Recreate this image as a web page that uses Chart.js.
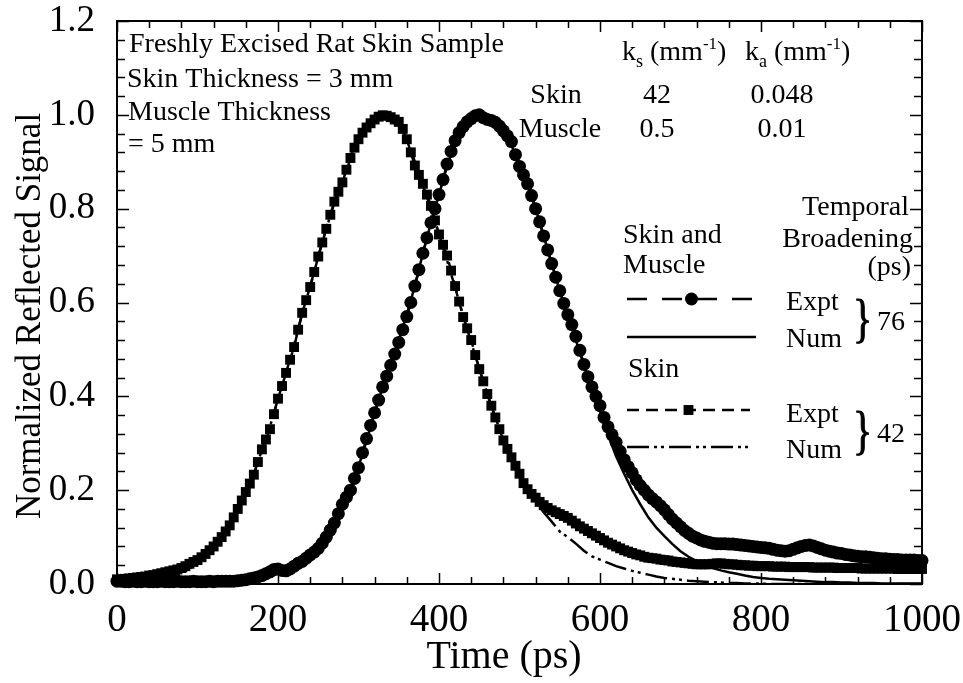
<!DOCTYPE html>
<html>
<head>
<meta charset="utf-8">
<title>Normalized Reflected Signal</title>
<script src="https://cdn.jsdelivr.net/npm/chart.js@4.4.1/dist/chart.umd.min.js"></script>
<style>
  html, body { margin: 0; padding: 0; background: #fff; }
  #chart { display: block; }
</style>
</head>
<body>
<canvas id="chart" width="963" height="683"></canvas>
<script>
// sampling times of the measured pulses (ps)
var exptTimes = [
  0, 5, 10, 15, 20, 25, 30, 35, 40, 45,
  50, 55, 60, 65, 70, 75, 80, 85, 90, 95,
  100, 105, 110, 115, 120, 125, 130, 135, 140, 145,
  150, 155, 160, 165, 170, 175, 180, 185, 190, 195,
  200, 205, 210, 215, 220, 225, 230, 235, 240, 245,
  250, 255, 260, 265, 270, 275, 280, 285, 290, 295,
  300, 305, 310, 315, 320, 325, 330, 335, 340, 345,
  350, 355, 360, 365, 370, 375, 380, 385, 390, 395,
  400, 405, 410, 415, 420, 425, 430, 435, 440, 445,
  450, 455, 460, 465, 470, 475, 480, 485, 490, 495,
  500, 505, 510, 515, 520, 525, 530, 535, 540, 545,
  550, 555, 560, 565, 570, 575, 580, 585, 590, 595,
  600, 605, 610, 615, 620, 625, 630, 635, 640, 645,
  650, 655, 660, 665, 670, 675, 680, 685, 690, 695,
  700, 705, 710, 715, 720, 725, 730, 735, 740, 745,
  750, 755, 760, 765, 770, 775, 780, 785, 790, 795,
  800, 805, 810, 815, 820, 825, 830, 835, 840, 845,
  850, 855, 860, 865, 870, 875, 880, 885, 890, 895,
  900, 905, 910, 915, 920, 925, 930, 935, 940, 945,
  950, 955, 960, 965, 970, 975, 980, 985, 990, 995,
  1000
];

// skin and muscle, experiment (circles)
var skinMuscleExpt = [
  0.006, 0.006, 0.005, 0.005, 0.006, 0.005, 0.005, 0.006, 0.005, 0.005,
  0.005, 0.006, 0.005, 0.005, 0.005, 0.006, 0.005, 0.005, 0.005, 0.006,
  0.005, 0.005, 0.005, 0.006, 0.005, 0.006, 0.006, 0.006, 0.006, 0.006,
  0.007, 0.008, 0.009, 0.011, 0.013, 0.015, 0.018, 0.022, 0.026, 0.031,
  0.032, 0.029, 0.028, 0.032, 0.038, 0.044, 0.048, 0.055, 0.062, 0.068,
  0.076, 0.087, 0.100, 0.115, 0.130, 0.150, 0.170, 0.185, 0.200, 0.225,
  0.248, 0.280, 0.310, 0.338, 0.365, 0.392, 0.420, 0.443, 0.466, 0.490,
  0.515, 0.542, 0.570, 0.600, 0.635, 0.670, 0.705, 0.738, 0.770, 0.800,
  0.830, 0.862, 0.895, 0.922, 0.945, 0.962, 0.975, 0.985, 0.992, 0.998,
  1.000, 0.994, 0.990, 0.988, 0.984, 0.976, 0.966, 0.955, 0.943, 0.915,
  0.890, 0.872, 0.853, 0.828, 0.800, 0.772, 0.742, 0.712, 0.683, 0.654,
  0.625, 0.598, 0.574, 0.553, 0.528, 0.498, 0.468, 0.442, 0.420, 0.400,
  0.380, 0.355, 0.335, 0.318, 0.302, 0.283, 0.265, 0.250, 0.237, 0.222,
  0.210, 0.200, 0.190, 0.182, 0.175, 0.167, 0.158, 0.148, 0.138, 0.130,
  0.122, 0.114, 0.108, 0.102, 0.098, 0.094, 0.091, 0.089, 0.087, 0.086,
  0.086, 0.086, 0.085, 0.085, 0.084, 0.083, 0.082, 0.081, 0.080, 0.079,
  0.078, 0.077, 0.076, 0.074, 0.072, 0.071, 0.070, 0.071, 0.074, 0.077,
  0.080, 0.082, 0.083, 0.081, 0.078, 0.075, 0.072, 0.070, 0.068, 0.066,
  0.065, 0.063, 0.062, 0.060, 0.059, 0.058, 0.058, 0.057, 0.056, 0.055,
  0.054, 0.054, 0.053, 0.052, 0.052, 0.051, 0.051, 0.051, 0.051, 0.050,
  0.050
];

// skin only, experiment (squares)
var skinExpt = [
  0.010, 0.010, 0.011, 0.012, 0.013, 0.014, 0.015, 0.016, 0.018, 0.019,
  0.021, 0.023, 0.025, 0.027, 0.029, 0.031, 0.034, 0.038, 0.043, 0.047,
  0.051, 0.057, 0.064, 0.072, 0.080, 0.090, 0.100, 0.112, 0.125, 0.142,
  0.160, 0.178, 0.196, 0.214, 0.233, 0.260, 0.287, 0.308, 0.330, 0.362,
  0.395, 0.422, 0.450, 0.478, 0.505, 0.542, 0.578, 0.605, 0.633, 0.665,
  0.698, 0.728, 0.757, 0.787, 0.815, 0.836, 0.856, 0.883, 0.908, 0.930,
  0.948, 0.962, 0.973, 0.982, 0.990, 0.996, 0.999, 0.998, 0.995, 0.990,
  0.985, 0.970, 0.948, 0.920, 0.892, 0.872, 0.853, 0.830, 0.806, 0.775,
  0.745, 0.723, 0.700, 0.668, 0.635, 0.602, 0.569, 0.545, 0.520, 0.488,
  0.458, 0.432, 0.405, 0.380, 0.355, 0.330, 0.306, 0.288, 0.270, 0.252,
  0.235, 0.215, 0.202, 0.192, 0.184, 0.175, 0.168, 0.162, 0.157, 0.153,
  0.149, 0.145, 0.141, 0.135, 0.129, 0.123, 0.118, 0.113, 0.108, 0.103,
  0.098, 0.093, 0.088, 0.084, 0.080, 0.076, 0.072, 0.069, 0.066, 0.063,
  0.061, 0.058, 0.056, 0.055, 0.054, 0.052, 0.051, 0.050, 0.048, 0.047,
  0.046, 0.045, 0.044, 0.043, 0.042, 0.042, 0.042, 0.042, 0.043, 0.044,
  0.044, 0.043, 0.042, 0.042, 0.041, 0.040, 0.040, 0.039, 0.039, 0.038,
  0.038, 0.038, 0.038, 0.037, 0.037, 0.037, 0.037, 0.036, 0.036, 0.036,
  0.036, 0.036, 0.036, 0.035, 0.035, 0.035, 0.035, 0.035, 0.035, 0.034,
  0.034, 0.034, 0.034, 0.034, 0.034, 0.033, 0.033, 0.033, 0.033, 0.033,
  0.033, 0.033, 0.033, 0.033, 0.032, 0.032, 0.032, 0.032, 0.032, 0.032,
  0.032
];

// time grid of the numerical results (ps)
var numTimes = [
  0, 10, 20, 30, 40, 50, 60, 70, 80, 90,
  100, 110, 120, 130, 140, 150, 160, 170, 180, 190,
  200, 210, 220, 230, 240, 250, 260, 270, 280, 290,
  300, 310, 320, 330, 340, 350, 360, 370, 380, 390,
  400, 410, 420, 430, 440, 450, 460, 470, 480, 490,
  500, 510, 520, 530, 540, 550, 560, 570, 580, 590,
  600, 610, 620, 630, 640, 650, 660, 670, 680, 690,
  700, 710, 720, 730, 740, 750, 760, 770, 780, 790,
  800, 810, 820, 830, 840, 850, 860, 870, 880, 890,
  900, 910, 920, 930, 940, 950, 960, 970, 980, 990,
  1000
];

// skin and muscle, numerical (solid)
var skinMuscleNum = [
  0, 0, 0, 0, 0, 0, 0, 0, 0, 0,
  0, 0, 0, 0, 0, 0.001, 0.003, 0.006, 0.010, 0.016,
  0.022, 0.030, 0.040, 0.052, 0.065, 0.080, 0.100, 0.130, 0.165, 0.200,
  0.250, 0.305, 0.365, 0.420, 0.470, 0.520, 0.575, 0.635, 0.705, 0.770,
  0.830, 0.890, 0.940, 0.972, 0.990, 0.998, 0.995, 0.982, 0.962, 0.935,
  0.893, 0.853, 0.800, 0.742, 0.683, 0.625, 0.572, 0.520, 0.466, 0.415,
  0.368, 0.318, 0.272, 0.235, 0.200, 0.170, 0.142, 0.120, 0.102, 0.085,
  0.070, 0.058, 0.049, 0.041, 0.034, 0.029, 0.025, 0.022, 0.018, 0.015,
  0.013, 0.011, 0.010, 0.009, 0.008, 0.007, 0.006, 0.005, 0.004, 0.004,
  0.003, 0.003, 0.002, 0.002, 0.002, 0.001, 0.001, 0.001, 0.001, 0.001,
  0.001
];

// skin only, numerical (dash-dot-dot)
var skinNum = [
  0.000, 0.001, 0.002, 0.003, 0.005, 0.007, 0.010, 0.015, 0.022, 0.032,
  0.045, 0.060, 0.080, 0.100, 0.125, 0.157, 0.195, 0.235, 0.285, 0.335,
  0.395, 0.450, 0.510, 0.575, 0.635, 0.698, 0.757, 0.812, 0.860, 0.905,
  0.945, 0.972, 0.990, 0.998, 0.995, 0.980, 0.950, 0.900, 0.850, 0.800,
  0.745, 0.690, 0.632, 0.572, 0.515, 0.460, 0.405, 0.355, 0.308, 0.268,
  0.232, 0.200, 0.175, 0.153, 0.133, 0.112, 0.100, 0.086, 0.071, 0.059,
  0.052, 0.045, 0.038, 0.033, 0.028, 0.024, 0.020, 0.016, 0.013, 0.011,
  0.009, 0.007, 0.006, 0.005, 0.004, 0.003, 0.002, 0.002, 0.001, 0.001,
  0.001, 0, 0, 0, 0, 0, 0, 0, 0, 0,
  0, 0, 0, 0, 0, 0, 0, 0, 0, 0,
  0
];

var xTicks = [0, 200, 400, 600, 800, 1000];
var yTicks = [0, 0.2, 0.4, 0.6, 0.8, 1.0, 1.2];
var xMinorStep = 40;
var yMinorStep = 0.04;

var SERIF = '"Times New Roman", "Liberation Serif", serif';

function pts(ts, vals) {
  return ts.map(function (t, i) { return { x: t, y: vals[i] }; });
}

function txt(ctx, s, x, y, size, align) {
  ctx.font = size + 'px ' + SERIF;
  ctx.textAlign = align || 'left';
  ctx.textBaseline = 'alphabetic';
  ctx.fillText(s, x, y);
}

// text with sub/superscripts: [text, size, dy]
function runs(ctx, parts, x, y) {
  ctx.textAlign = 'left';
  ctx.textBaseline = 'alphabetic';
  parts.forEach(function (p) {
    ctx.font = p[1] + 'px ' + SERIF;
    ctx.fillText(p[0], x, y + p[2]);
    x += ctx.measureText(p[0]).width;
  });
}

function brace(ctx, x, yc) {
  ctx.save();
  ctx.translate(x, yc);
  ctx.scale(1, 1.3);
  ctx.font = '40px ' + SERIF;
  ctx.textAlign = 'left';
  ctx.textBaseline = 'middle';
  ctx.lineWidth = 0.8;
  ctx.fillText('}', 0, 0);
  ctx.strokeText('}', 0, 0);
  ctx.restore();
}

function sample(ctx, ds, x1, x2, y) {
  ctx.save();
  ctx.lineWidth = ds.borderWidth;
  ctx.setLineDash(ds.borderDash || []);
  ctx.beginPath();
  ctx.moveTo(x1, y);
  ctx.lineTo(x2, y);
  ctx.stroke();
  ctx.setLineDash([]);
  var mx = (x1 + x2) / 2;
  if (ds.pointRadius > 0) {
    ctx.beginPath();
    if (ds.pointStyle === 'rect') {
      var s = ds.pointRadius * Math.SQRT1_2;
      ctx.rect(mx - s, y - s, 2 * s, 2 * s);
    } else {
      ctx.arc(mx, y, ds.pointRadius, 0, Math.PI * 2);
    }
    ctx.fill();
  }
  ctx.restore();
}

var framePlugin = {
  id: 'frame',
  beforeDatasetsDraw: function (chart) {
    var ctx = chart.ctx, a = chart.chartArea;
    var xs = chart.scales.x, ys = chart.scales.y;
    ctx.save();
    ctx.strokeStyle = '#000';
    ctx.lineWidth = 2;
    ctx.strokeRect(a.left, a.top, a.right - a.left, a.bottom - a.top);
    ctx.lineWidth = 1.5;
    ctx.beginPath();
    var x0 = xTicks[0], x1 = xTicks[xTicks.length - 1];
    var n = Math.round((x1 - x0) / xMinorStep);
    for (var i = 0; i <= n; i++) {
      var v = x0 + i * xMinorStep;
      var px = Math.round(xs.getPixelForValue(v)) + 0.5;
      var len = xTicks.indexOf(v) >= 0 ? 11 : 7;
      ctx.moveTo(px, a.bottom); ctx.lineTo(px, a.bottom - len);
      ctx.moveTo(px, a.top); ctx.lineTo(px, a.top + len);
    }
    var y0 = yTicks[0], y1 = yTicks[yTicks.length - 1];
    var m = Math.round((y1 - y0) / yMinorStep);
    for (var j = 0; j <= m; j++) {
      var w = Math.round((y0 + j * yMinorStep) * 100) / 100;
      var py = Math.round(ys.getPixelForValue(w)) + 0.5;
      var major = yTicks.some(function (t) { return Math.abs(t - w) < 1e-6; });
      var l = major ? 12 : 8;
      ctx.moveTo(a.left, py); ctx.lineTo(a.left + l, py);
      ctx.moveTo(a.right, py); ctx.lineTo(a.right - l, py);
    }
    ctx.stroke();
    ctx.restore();
  },
  afterDraw: function (chart) {
    var ctx = chart.ctx;
    var ds = chart.data.datasets;
    ctx.save();
    ctx.fillStyle = '#000';
    ctx.strokeStyle = '#000';

    // axis titles
    txt(ctx, 'Time (ps)', 504, 668, 40, 'center');
    ctx.save();
    ctx.translate(28, 316);
    ctx.rotate(-Math.PI / 2);
    txt(ctx, 'Normalized Reflected Signal', 0, 12, 35, 'center');
    ctx.restore();

    // sample description
    txt(ctx, 'Freshly Excised Rat Skin Sample', 129, 52, 28);
    txt(ctx, 'Skin Thickness = 3 mm', 127, 87, 28);
    txt(ctx, 'Muscle Thickness', 128, 120, 28);
    txt(ctx, '= 5 mm', 128, 152, 28);

    // optical properties table
    runs(ctx, [['k', 28, 0], ['s', 18, 7], [' (mm', 28, 0], ['-1', 17, -11], [')', 28, 0]], 622, 60);
    runs(ctx, [['k', 28, 0], ['a', 18, 7], [' (mm', 28, 0], ['-1', 17, -11], [')', 28, 0]], 745, 60);
    txt(ctx, 'Skin', 556, 103, 28, 'center');
    txt(ctx, '42', 657, 103, 28, 'center');
    txt(ctx, '0.048', 782, 103, 28, 'center');
    txt(ctx, 'Muscle', 560, 137, 28, 'center');
    txt(ctx, '0.5', 657, 137, 28, 'center');
    txt(ctx, '0.01', 782, 137, 28, 'center');

    // legend
    txt(ctx, 'Temporal', 909, 215, 28, 'right');
    txt(ctx, 'Broadening', 913, 247, 28, 'right');
    txt(ctx, '(ps)', 911, 275, 28, 'right');
    txt(ctx, 'Skin and', 623, 243, 28);
    txt(ctx, 'Muscle', 623, 273, 28);
    sample(ctx, ds[0], 627, 756, 299);
    sample(ctx, ds[1], 627, 756, 337);
    txt(ctx, 'Expt', 786, 310, 28);
    txt(ctx, 'Num', 786, 347, 28);
    brace(ctx, 853, 322);
    txt(ctx, '76', 877, 330, 28);

    txt(ctx, 'Skin', 628, 377, 28);
    sample(ctx, ds[2], 627, 750, 410);
    sample(ctx, ds[3], 627, 750, 447);
    txt(ctx, 'Expt', 786, 422, 28);
    txt(ctx, 'Num', 786, 458, 28);
    brace(ctx, 853, 434);
    txt(ctx, '42', 877, 442, 28);
    ctx.restore();
  }
};

var ctx = document.getElementById('chart').getContext('2d');
var chart = new Chart(ctx, {
  type: 'line',
  data: {
    datasets: [
      {
        label: 'Skin and Muscle Expt',
        data: pts(exptTimes, skinMuscleExpt),
        borderColor: '#000',
        backgroundColor: '#000',
        borderWidth: 2.5,
        borderDash: [20, 15],
        pointStyle: 'circle',
        pointRadius: 6.5,
        pointBorderWidth: 0,
        clip: 10
      },
      {
        label: 'Skin and Muscle Num',
        data: pts(numTimes, skinMuscleNum),
        borderColor: '#000',
        backgroundColor: '#000',
        borderWidth: 2.5,
        pointRadius: 0
      },
      {
        label: 'Skin Expt',
        data: pts(exptTimes, skinExpt),
        borderColor: '#000',
        backgroundColor: '#000',
        borderWidth: 2.5,
        borderDash: [12, 7],
        pointStyle: 'rect',
        pointRadius: 7,
        pointBorderWidth: 0,
        clip: 10
      },
      {
        label: 'Skin Num',
        data: pts(numTimes, skinNum),
        borderColor: '#000',
        backgroundColor: '#000',
        borderWidth: 2.5,
        borderDash: [22, 5, 3, 4, 3, 5],
        pointRadius: 0
      }
    ]
  },
  options: {
    responsive: false,
    animation: false,
    devicePixelRatio: 1,
    layout: { padding: { top: 21, right: 41, left: 0, bottom: 0 } },
    plugins: {
      legend: { display: false },
      tooltip: { enabled: false }
    },
    scales: {
      x: {
        type: 'linear',
        min: 0,
        max: 1000,
        grid: { display: false },
        border: { display: false },
        afterBuildTicks: function (scale) {
          scale.ticks = xTicks.map(function (v) { return { value: v }; });
        },
        afterFit: function (scale) {
          scale.height = 99;
          scale.paddingLeft = 0;
          scale.paddingRight = 0;
        },
        ticks: {
          color: '#000',
          padding: 9,
          maxRotation: 0,
          font: { family: SERIF, size: 39, lineHeight: 1 },
          callback: function (v) { return String(v); }
        }
      },
      y: {
        type: 'linear',
        min: 0,
        max: 1.2,
        grid: { display: false },
        border: { display: false },
        afterBuildTicks: function (scale) {
          scale.ticks = yTicks.map(function (v) { return { value: v }; });
        },
        afterFit: function (scale) {
          scale.width = 117;
          scale.paddingTop = 0;
          scale.paddingBottom = 0;
        },
        ticks: {
          color: '#000',
          padding: 14,
          font: { family: SERIF, size: 37, lineHeight: 1 },
          callback: function (v) { return Number(v).toFixed(1); }
        }
      }
    }
  },
  plugins: [framePlugin]
});
</script>
</body>
</html>
